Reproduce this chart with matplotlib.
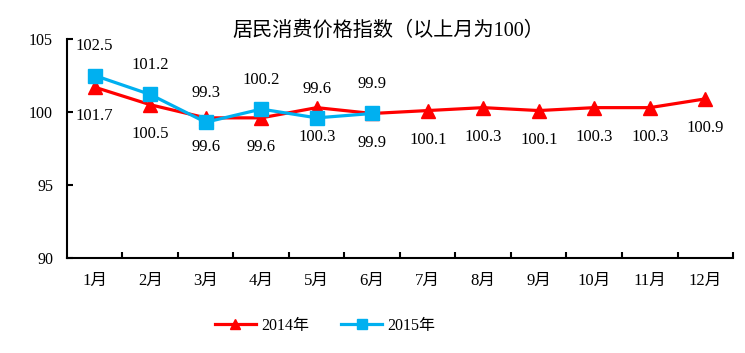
import matplotlib
matplotlib.use("Agg")
import matplotlib.pyplot as plt

months = ["1月", "2月", "3月", "4月", "5月", "6月", "7月", "8月", "9月", "10月", "11月", "12月"]
cpi_2014 = [101.7, 100.5, 99.6, 99.6, 100.3, 99.9, 100.1, 100.3, 100.1, 100.3, 100.3, 100.9]
cpi_2015 = [102.5, 101.2, 99.3, 100.2, 99.6, 99.9]
yticks = [90, 95, 100, 105]
title = "居民消费价格指数（以上月为100）"

plt.rcParams['font.family'] = ['Liberation Serif', 'Noto Sans CJK SC']

fig = plt.figure(figsize=(7.45, 3.53), dpi=100)
ax = fig.add_axes([0.0899, 0.269, 0.894, 0.6205])

x14 = list(range(len(cpi_2014)))
x15 = list(range(len(cpi_2015)))
red = "#FF0000"
blue = "#00B0F0"
ax.plot(x14, cpi_2014, color=red, lw=2.3, marker="^", markersize=10, label="2014年", zorder=3)
ax.plot(x15, cpi_2015, color=blue, lw=2.3, marker="s", markersize=9.5, label="2015年", zorder=4)

for xi, v in zip(x14, cpi_2014):
    ax.annotate(f"{v:.1f}", (xi, v), xytext=(0, -21), textcoords="offset points",
                ha="center", va="center", fontsize=12)
for xi, v in zip(x15, cpi_2015):
    ax.annotate(f"{v:.1f}", (xi, v), xytext=(0, 21), textcoords="offset points",
                ha="center", va="center", fontsize=12)

ax.set_xlim(-0.5, len(months) - 0.5)
ax.set_ylim(90, 105)
ax.set_yticks(yticks)
ax.set_yticklabels([str(t) for t in yticks], fontsize=11.5)
ax.set_xticks([i + 0.5 for i in range(len(months))], minor=False)
ax.set_xticklabels([])
ax.set_xticks(range(len(months)), minor=True)
ax.set_xticklabels(months, minor=True, fontsize=12)
ax.tick_params(axis="x", which="major", direction="in", length=4, width=1.5)
ax.tick_params(axis="x", which="minor", length=0, pad=11)
ax.tick_params(axis="y", direction="in", length=4, width=1.5, pad=10)
for s in ["top", "right"]:
    ax.spines[s].set_visible(False)
for s in ["left", "bottom"]:
    ax.spines[s].set_linewidth(1.5)

fig.text(0.521, 0.912, title, ha="center", va="center", fontsize=14.5)

fig.legend(loc="center", bbox_to_anchor=(0.436, 0.077), ncol=2, frameon=False,
           fontsize=11.5, handlelength=2.6, columnspacing=2.0, handletextpad=0.3,
           markerscale=0.75)

fig.savefig("out.png", dpi=100)
